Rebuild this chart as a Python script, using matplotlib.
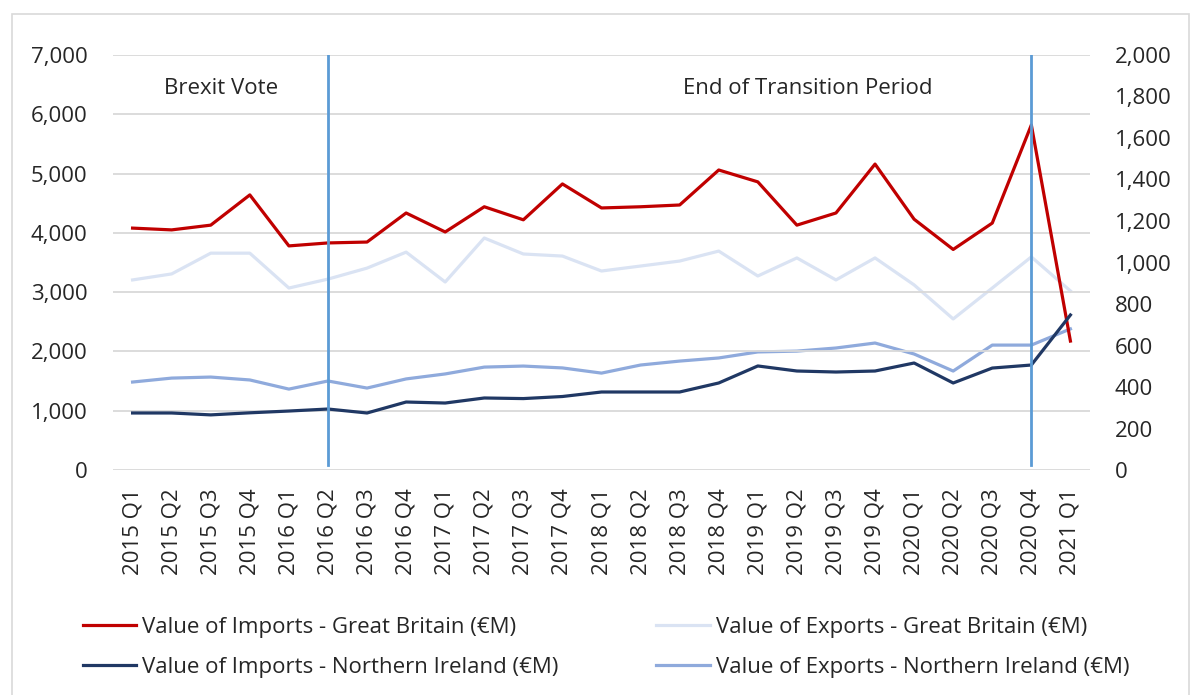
import numpy as np
import matplotlib
matplotlib.use("Agg")
import matplotlib.pyplot as plt
from matplotlib.patches import Rectangle
from matplotlib.ticker import FuncFormatter

plt.rcParams['font.family'] = ['Open Sans', 'DejaVu Sans']

quarters = [f"{y} Q{q}" for y in range(2015, 2021) for q in range(1, 5)] + ["2021 Q1"]

# left axis (EUR M)
imports_gb = [4080, 4050, 4130, 4640, 3780, 3830, 3845, 4335, 4015, 4440, 4220, 4825,
              4420, 4440, 4470, 5060, 4860, 4130, 4335, 5160, 4230, 3720, 4165, 5820, 2175]
imports_ni = [962, 962, 930, 965, 995, 1029, 962, 1147, 1130, 1215, 1205, 1240,
              1316, 1316, 1316, 1468, 1755, 1670, 1653, 1670, 1805, 1468, 1720, 1771, 2615]
# right axis (EUR M)
exports_gb = [916, 945, 1045, 1045, 877, 920, 973, 1050, 906, 1118, 1041, 1031,
              959, 983, 1007, 1055, 935, 1022, 916, 1022, 892, 728, 877, 1027, 863]
exports_ni = [424, 443, 448, 434, 390, 429, 395, 439, 463, 496, 501, 492,
              467, 506, 525, 540, 569, 573, 588, 612, 559, 477, 602, 602, 680]

events = ["2016 Q2", "2020 Q4"]
FS = 16

fig = plt.figure(figsize=(11.95, 6.95), dpi=100)
ax = fig.add_axes([0.0946, 0.3237, 0.8175, 0.5972])
ax2 = ax.twinx()
ax.set_zorder(ax2.get_zorder() + 1)
ax.patch.set_visible(False)

x = np.arange(len(quarters))
l1, = ax.plot(x, imports_gb, color='#C00000', lw=2.3, label='Value of Imports - Great Britain (€M)')
l2, = ax.plot(x, imports_ni, color='#203864', lw=2.3, label='Value of Imports - Northern Ireland (€M)')
l3, = ax2.plot(x, exports_gb, color='#DAE3F3', lw=2.3, label='Value of Exports - Great Britain (€M)')
l4, = ax2.plot(x, exports_ni, color='#8FAADC', lw=2.3, label='Value of Exports - Northern Ireland (€M)')

for e in events:
    ax.axvline(quarters.index(e), ymin=0.012, ymax=1, color='#5B9BD5', lw=2)

ax.set_xlim(-0.5, len(quarters) - 0.5)
ax.set_ylim(0, 7000)
ax2.set_ylim(0, 2000)
ax.set_yticks(np.arange(0, 7001, 1000))
ax2.set_yticks(np.arange(0, 2001, 200))
fmt = FuncFormatter(lambda v, p: f"{int(v):,}")
ax.yaxis.set_major_formatter(fmt)
ax2.yaxis.set_major_formatter(fmt)
ax.set_xticks(x)
ax.set_xticklabels(quarters, rotation=90)

ax.grid(axis='y', color='#D9D9D9', lw=1.3)
ax.set_axisbelow(True)
for a in (ax, ax2):
    for s in a.spines.values():
        s.set_visible(False)
    a.tick_params(length=0, labelsize=FS, colors='#262626')
ax.tick_params(axis='y', pad=18.5)
ax2.tick_params(axis='y', pad=18)
ax.tick_params(axis='x', pad=13)

ax.text(2.26, 6430, "Brexit Vote", ha='center', va='center', fontsize=FS, color='#262626')
ax.text(17.27, 6430, "End of Transition Period", ha='center', va='center', fontsize=FS, color='#262626')

fig.legend([l1, l2, l3, l4], [h.get_label() for h in (l1, l2, l3, l4)], ncol=2,
           loc='center left', bbox_to_anchor=(83 / 1195, 1 - 647.5 / 695), frameon=False,
           fontsize=FS, handlelength=2.4, handletextpad=0.27, columnspacing=4.4,
           labelspacing=0.85, borderpad=0, borderaxespad=0, labelcolor='#262626')

fig.patches.append(Rectangle((12 / 1195, -0.01), 1177 / 1195, 1 - 14 / 695 + 0.01,
                             transform=fig.transFigure, fill=False, ec='#D9D9D9', lw=1.2))

fig.savefig("out.png", dpi=100)
